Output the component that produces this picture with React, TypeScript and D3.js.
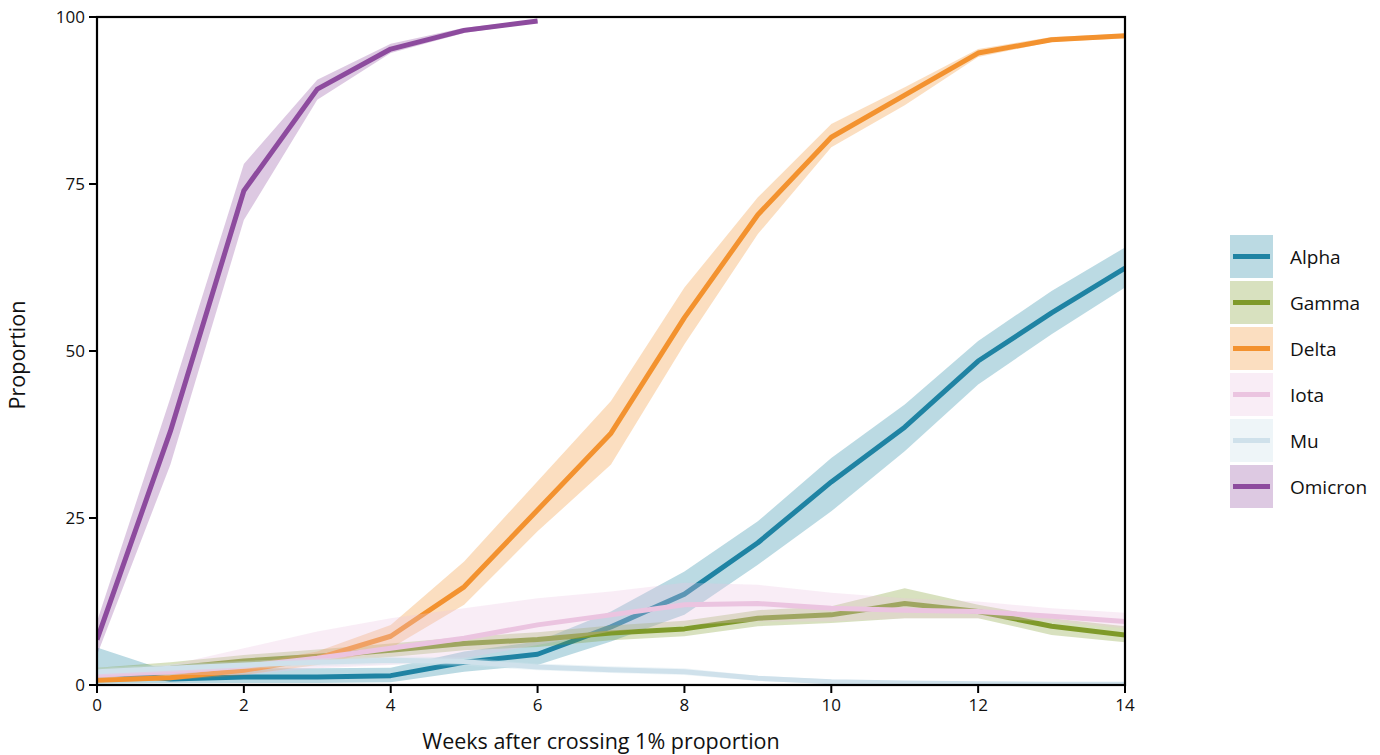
import React from "react";
import * as d3 from "d3";

const weeks = [0, 1, 2, 3, 4, 5, 6, 7, 8, 9, 10, 11, 12, 13, 14];
const omicronWeeks = [0, 1, 2, 3, 4, 5, 6];

const alphaMean = [2.0, 0.9, 1.2, 1.2, 1.4, 3.4, 4.6, 8.7, 13.6, 21.3, 30.4, 38.6, 48.5, 55.7, 62.4];
const alphaLow = [0.2, 0.3, 0.3, 0.3, 0.4, 2.0, 3.0, 6.5, 10.5, 18.0, 26.0, 35.0, 45.0, 52.5, 59.5];
const alphaHigh = [5.6, 2.0, 2.5, 2.5, 2.6, 5.0, 6.5, 11.0, 17.0, 24.5, 34.0, 42.0, 51.5, 59.0, 65.5];

const gammaMean = [1.8, 2.5, 3.6, 4.3, 5.2, 6.2, 6.8, 7.8, 8.4, 10.0, 10.5, 12.2, 11.0, 8.8, 7.5];
const gammaLow = [1.0, 1.6, 2.6, 3.3, 4.2, 5.2, 5.7, 6.7, 7.3, 8.8, 9.3, 10.0, 10.0, 7.5, 6.4];
const gammaHigh = [2.6, 3.4, 4.5, 5.3, 6.2, 7.2, 7.9, 8.9, 9.6, 11.2, 11.8, 14.5, 12.0, 10.0, 8.8];

const deltaMean = [0.7, 1.1, 2.2, 4.0, 7.3, 14.7, 26.2, 37.7, 55.0, 70.4, 82.0, 88.3, 94.6, 96.6, 97.2];
const deltaLow = [0.4, 0.7, 1.5, 3.0, 5.5, 12.0, 23.0, 33.0, 51.0, 67.5, 80.5, 86.8, 94.0, 96.3, 96.8];
const deltaHigh = [1.0, 1.6, 3.0, 5.0, 9.0, 18.5, 30.5, 42.5, 59.5, 73.0, 84.0, 89.5, 95.2, 97.0, 97.5];

const iotaMean = [1.5, 2.0, 2.8, 4.0, 5.5, 7.0, 9.0, 10.5, 12.0, 12.2, 11.5, 11.2, 11.0, 10.3, 9.5];
const iotaLow = [1.0, 1.5, 1.5, 2.5, 3.0, 4.0, 6.0, 8.0, 9.0, 9.5, 9.5, 10.0, 10.0, 9.5, 8.5];
const iotaHigh = [2.0, 3.0, 5.5, 8.0, 10.0, 11.5, 13.0, 14.0, 15.3, 15.0, 13.8, 13.0, 12.5, 11.5, 10.8];

const muMean = [2.0, 2.5, 3.0, 3.4, 3.7, 3.5, 2.7, 2.3, 2.0, 1.0, 0.5, 0.3, 0.2, 0.1, 0.1];
const muLow = [1.4, 1.9, 2.4, 2.8, 3.1, 2.9, 2.2, 1.8, 1.5, 0.6, 0.2, 0.1, 0.0, 0.0, 0.0];
const muHigh = [2.6, 3.1, 3.6, 4.0, 4.3, 4.1, 3.2, 2.8, 2.5, 1.4, 0.8, 0.5, 0.4, 0.3, 0.3];

const omicronMean = [6.8, 38.0, 74.0, 89.2, 95.2, 98.0, 99.4];
const omicronLow = [4.5, 33.0, 69.6, 87.6, 94.6, 97.6, 99.2];
const omicronHigh = [9.5, 43.0, 78.0, 90.6, 96.0, 98.4, 99.6];

const variantNames = ["Alpha", "Gamma", "Delta", "Iota", "Mu", "Omicron"];
const lineColors = ["#1f83a3", "#7f9a2a", "#f3922f", "#ebc4e0", "#cfe1eb", "#8d4b9e"];
const bandOpacity = [0.3, 0.3, 0.3, 0.3, 0.35, 0.3];

const yTicks = [0, 25, 50, 75, 100];
const xTicks = [0, 2, 4, 6, 8, 10, 12, 14];

const series = [
  { x: weeks, mean: alphaMean, low: alphaLow, high: alphaHigh },
  { x: weeks, mean: gammaMean, low: gammaLow, high: gammaHigh },
  { x: weeks, mean: deltaMean, low: deltaLow, high: deltaHigh },
  { x: weeks, mean: iotaMean, low: iotaLow, high: iotaHigh },
  { x: weeks, mean: muMean, low: muLow, high: muHigh },
  { x: omicronWeeks, mean: omicronMean, low: omicronLow, high: omicronHigh },
];

const FONT = "'Open Sans', 'Noto Sans', sans-serif";

export default function App() {
  const W = 1380;
  const H = 755;
  const left = 97, right = 1125, top = 17, bottom = 685;
  const x = d3.scaleLinear().domain([0, 14]).range([left, right]);
  const y = d3.scaleLinear().domain([0, 100]).range([bottom, top]);

  return (
    <svg width={W} height={H} style={{ position: "absolute", left: 0, top: 0, background: "#fff" }}>
      <defs>
        <clipPath id="plotclip">
          <rect x={left} y={top} width={right - left} height={bottom - top} />
        </clipPath>
      </defs>
      <g clipPath="url(#plotclip)">
        {series.map((s, i) => {
          const idx = s.x.map((_, k) => k);
          const area = d3
            .area<number>()
            .x((k) => x(s.x[k]))
            .y0((k) => y(s.low[k]))
            .y1((k) => y(s.high[k]));
          const line = d3
            .line<number>()
            .x((k) => x(s.x[k]))
            .y((k) => y(s.mean[k]));
          return (
            <g key={variantNames[i]}>
              <path d={area(idx) || ""} fill={lineColors[i]} fillOpacity={bandOpacity[i]} stroke="none" />
              <path d={line(idx) || ""} fill="none" stroke={lineColors[i]} strokeWidth={5} strokeLinejoin="round" />
            </g>
          );
        })}
      </g>
      <rect x={left} y={top} width={right - left} height={bottom - top} fill="none" stroke="#000" strokeWidth={2.2} />
      {yTicks.map((t) => (
        <g key={"y" + t}>
          <line x1={left - 8} x2={left} y1={y(t)} y2={y(t)} stroke="#000" strokeWidth={2} />
          <text x={left - 12} y={y(t)} dy="0.35em" textAnchor="end" fontFamily={FONT} fontSize={17} fill="#111">
            {t}
          </text>
        </g>
      ))}
      {xTicks.map((t) => (
        <g key={"x" + t}>
          <line x1={x(t)} x2={x(t)} y1={bottom} y2={bottom + 8} stroke="#000" strokeWidth={2} />
          <text x={x(t)} y={bottom + 26} textAnchor="middle" fontFamily={FONT} fontSize={17} fill="#111">
            {t}
          </text>
        </g>
      ))}
      <text x={601} y={749} textAnchor="middle" fontFamily={FONT} fontSize={21.5} fill="#111">
        Weeks after crossing 1% proportion
      </text>
      <text
        transform={`translate(25, ${355}) rotate(-90)`}
        textAnchor="middle"
        fontFamily={FONT}
        fontSize={21.5}
        fill="#111"
      >
        Proportion
      </text>
      {variantNames.map((name, i) => {
        const by = 235 + i * 46;
        return (
          <g key={"leg" + name}>
            <rect x={1230} y={by} width={43} height={43} fill={lineColors[i]} fillOpacity={bandOpacity[i]} />
            <line x1={1233} x2={1270} y1={by + 21.5} y2={by + 21.5} stroke={lineColors[i]} strokeWidth={5} />
            <text x={1290} y={by + 22} dy="0.35em" fontFamily={FONT} fontSize={19} fill="#111">
              {name}
            </text>
          </g>
        );
      })}
    </svg>
  );
}
